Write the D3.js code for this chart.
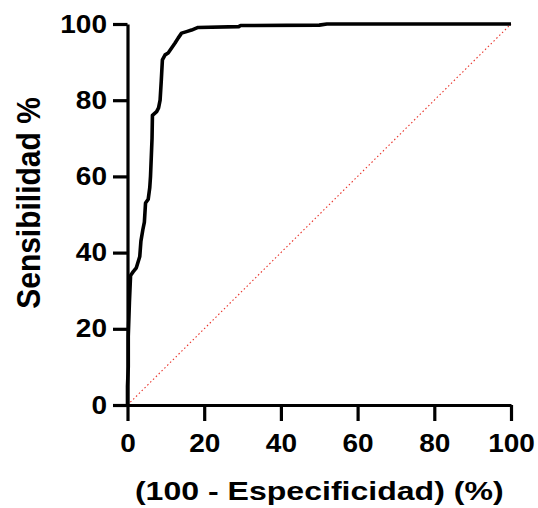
<!DOCTYPE html>
<html>
<head>
<meta charset="utf-8">
<script src="https://cdn.jsdelivr.net/npm/d3@7"></script>
<style>
  body { margin: 0; background: #fff; }
  text { font-family: "Liberation Sans", Arial, sans-serif; font-weight: bold; }
</style>
</head>
<body>
<div id="wrapper"></div>
<script>
// ROC curve values: [100 - especificidad, sensibilidad]
const rocFpr = [0, 0, 0.2, 0.2, 0.5, 0.8, 1.5, 2.3, 3.2, 3.5, 4.0, 4.4, 4.7, 5.4, 5.8, 6.0, 6.2, 6.4, 6.5, 7.6, 8.1, 8.5, 8.8, 9.1, 9.8, 10.6, 11.5, 12.4, 13.2, 14.1, 15.4, 16.7, 18.4, 29, 29.5, 50, 52, 100]
const rocTpr = [0, 5, 10, 18, 27, 34, 35, 36, 39, 43, 46, 48, 53, 54, 57, 60, 65, 70, 76, 77, 78, 80, 85, 90.6, 91.9, 92.4, 93.7, 95, 96.3, 97.6, 98, 98.4, 99.1, 99.3, 99.6, 99.7, 100, 100]
const xTicks = [0, 20, 40, 60, 80, 100]
const yTicks = [0, 20, 40, 60, 80, 100]
const xTitle = "(100 - Especificidad) (%)"
const yTitle = "Sensibilidad %"

async function draw(){

    const dimensions = {
        width: 538,
        height: 508,
        margin: { top: 24, right: 27, bottom: 103, left: 127.5 },
    }
    dimensions.boundedWidth = dimensions.width - dimensions.margin.left - dimensions.margin.right
    dimensions.boundedHeight = dimensions.height - dimensions.margin.top - dimensions.margin.bottom

    const svg = d3.select("#wrapper")
        .append("svg")
        .attr("width", dimensions.width)
        .attr("height", dimensions.height)

    const bounds = svg.append("g")
        .attr("transform", `translate(${dimensions.margin.left}, ${dimensions.margin.top})`)

    const xScale = d3.scaleLinear().domain([0, 100]).range([0, dimensions.boundedWidth])
    const yScale = d3.scaleLinear().domain([0, 100]).range([dimensions.boundedHeight, 0])

    // reference diagonal
    bounds.append("line")
        .attr("x1", xScale(0)).attr("y1", yScale(0))
        .attr("x2", xScale(100)).attr("y2", yScale(100))
        .attr("stroke", "#e8332a")
        .attr("stroke-width", 1.1)
        .attr("stroke-dasharray", "1.5,2.5")

    // axes
    const xAxis = bounds.append("g")
        .attr("transform", `translate(0, ${dimensions.boundedHeight})`)
        .call(d3.axisBottom(xScale).tickValues(xTicks).tickSize(16).tickPadding(13).tickSizeOuter(0))

    const yAxis = bounds.append("g")
        .call(d3.axisLeft(yScale).tickValues(yTicks).tickSize(14.5).tickPadding(6).tickSizeOuter(0))

    ;[xAxis, yAxis].forEach(a => {
        a.select(".domain").attr("stroke", "#000").attr("stroke-width", 3.2)
        a.selectAll(".tick line").attr("stroke", "#000").attr("stroke-width", 3.2)
        a.selectAll(".tick text")
            .attr("fill", "#000")
            .style("font-size", "25px")
            .style("font-family", "Liberation Sans, Arial, sans-serif")
            .style("font-weight", "bold")
            .each(function(){
                // the reference glyphs are a bit wider than plain Arial bold
                const t = d3.select(this)
                const x = +t.attr("x") || 0
                t.attr("x", 0).attr("transform", `translate(${x},0) scale(1.12,1)`)
            })
    })

    // roc curve
    const points = rocFpr.map((d, i) => [d, rocTpr[i]])
    const line = d3.line()
        .x(d => xScale(d[0]))
        .y(d => yScale(d[1]))

    bounds.append("path")
        .datum(points)
        .attr("d", line)
        .attr("fill", "none")
        .attr("stroke", "#000")
        .attr("stroke-width", 3.6)
        .attr("stroke-linejoin", "round")

    // axis titles
    svg.append("text")
        .attr("transform", `translate(${dimensions.margin.left + dimensions.boundedWidth / 2}, 500) scale(1.21,1)`)
        .attr("text-anchor", "middle")
        .style("font-size", "26.5px")
        .text(xTitle)

    svg.append("text")
        .attr("transform", `translate(40, 203) scale(1.1,1) rotate(-90)`)
        .attr("text-anchor", "middle")
        .style("font-size", "30px")
        .text(yTitle)
}

draw()
</script>
</body>
</html>
